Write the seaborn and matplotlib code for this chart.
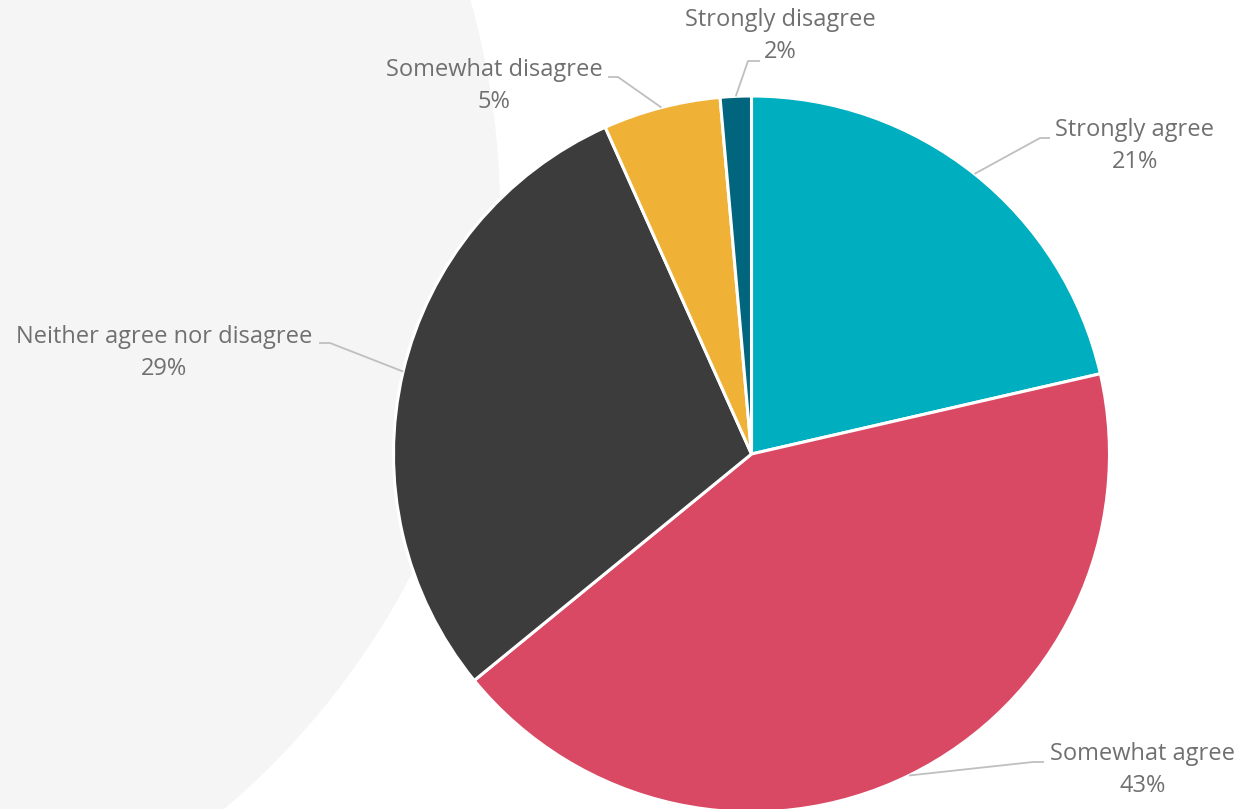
import numpy as np
import matplotlib
matplotlib.use("Agg")
import matplotlib.pyplot as plt
from matplotlib.patches import Circle
import seaborn as sns

# survey answers, clockwise from 12 o'clock
answers = ['Strongly agree', 'Somewhat agree', 'Neither agree nor disagree',
           'Somewhat disagree', 'Strongly disagree']
shares = [21.4, 42.7, 29.2, 5.3, 1.4]
pct_labels = ['21%', '43%', '29%', '5%', '2%']
colors = ['#00afbf', '#da4964', '#3c3c3c', '#efb237', '#00657d']

W, H = 1243, 809

sns.set_theme(style="white")
plt.rcParams['font.family'] = ['Open Sans', 'DejaVu Sans']

fig = plt.figure(figsize=(W / 100, H / 100), dpi=100)
ax = fig.add_axes([0, 0, 1, 1])

def fy(y):
    # picture coords measured from the top
    return H - y

# big pale backdrop disc on the left
ax.add_patch(Circle((-282, fy(213)), 782, color='#f5f5f5', zorder=0, lw=0))

cx, cy, r = 751.5, fy(454), 358
wedges, _ = ax.pie(shares, colors=sns.color_palette(colors), startangle=90,
                   counterclock=False, center=(cx, cy), radius=r, frame=True,
                   wedgeprops=dict(edgecolor='white', linewidth=2.2))
ax.set_xlim(0, W)
ax.set_ylim(0, H)
ax.set_aspect('equal')
ax.axis('off')

# label layout: text centre (name line), leader elbow, leader end
text_pos = [(1135, 130), (1143, 754), (164, 337), (494, 70), (780, 20)]
elbows = [(1040, 138), (1033, 762), (330, 343), (618, 77), (748, 61)]
ends = [(1050, 138), (1044, 762), (319, 343), (608, 77), (760, 61)]

for w, name, pct, tp, el, en in zip(wedges, answers, pct_labels, text_pos, elbows, ends):
    mid = np.deg2rad((w.theta1 + w.theta2) / 2)
    ax0 = cx + r * np.cos(mid)
    ay0 = cy + r * np.sin(mid)
    ax.plot([ax0, el[0], en[0]], [ay0, fy(el[1]), fy(en[1])],
            color='#bfbfbf', lw=1.3, zorder=3, solid_capstyle='butt')
    ax.text(tp[0], fy(tp[1]), name, ha='center', va='center',
            fontsize=17, color='#707070', zorder=4)
    ax.text(tp[0], fy(tp[1] + 32), pct, ha='center', va='center',
            fontsize=17, color='#707070', zorder=4)

fig.savefig('out.png', dpi=100)
